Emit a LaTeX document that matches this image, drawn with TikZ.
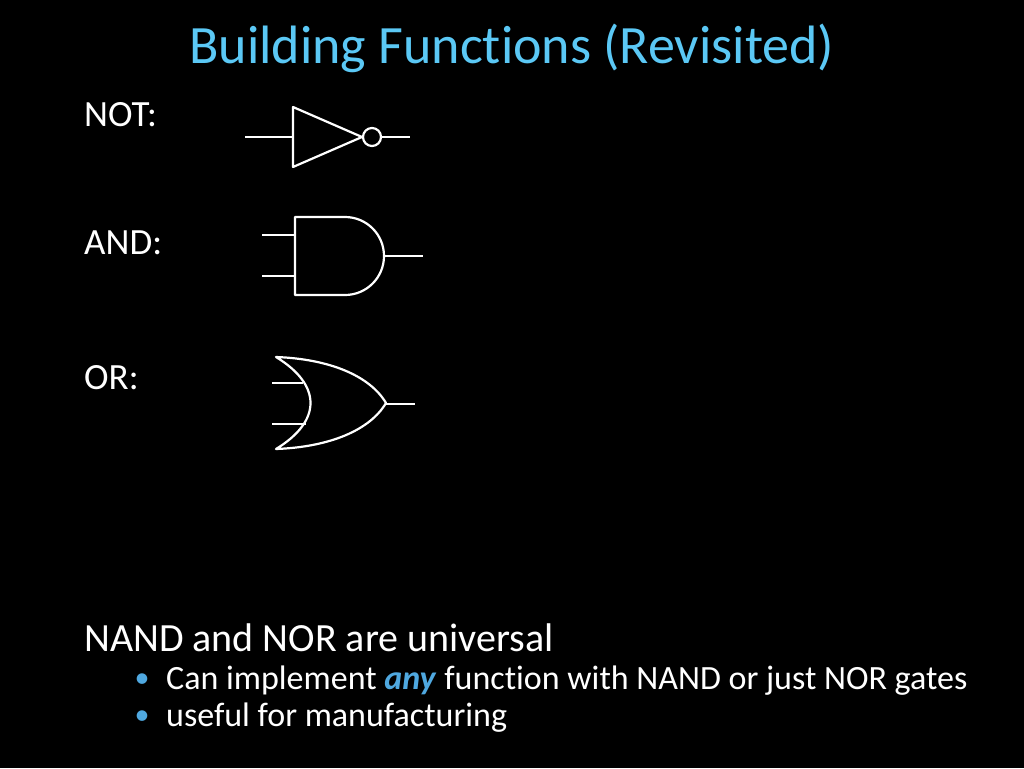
\documentclass[tikz,border=0pt]{standalone}
\usepackage{fontspec}
\setmainfont{Carlito}[Ligatures=NoCommon]
\definecolor{ttl}{HTML}{5BC8F5}
\definecolor{bul}{HTML}{4FA8E0}
\begin{document}
\begin{tikzpicture}[x=1pt,y=-1pt,gate/.style={draw=white,line width=2.2pt,line join=round},
 lbl/.style={text=white,anchor=west,inner sep=0pt,font=\fontsize{37}{42}\selectfont}]
\fill[black] (0,0) rectangle (1024,768);
\useasboundingbox (0,0) rectangle (1024,768);
\node[inner sep=0pt,text=ttl,font=\fontsize{54}{60}\selectfont] (title) at (512,48) {Building Functions (Revisited)};
\node[lbl] (lnot) at (84,115) {NOT:};
\node[lbl] (land) at (84,243) {AND:};
\node[lbl] (lor) at (84,378) {OR:};
% NOT
\draw[gate] (245,137) -- (293,137);
\draw[gate] (293,107) -- (293,167) -- (362,137) -- cycle;
\draw[gate] (372,137) circle (9);
\draw[gate] (381,137) -- (410,137);
% AND
\draw[gate] (262,235) -- (295,235);
\draw[gate] (262,276) -- (295,276);
\draw[gate] (295,217) -- (345,217) arc[start angle=-90,end angle=90,radius=39] -- (295,295) -- cycle;
\draw[gate] (384,256) -- (423,256);
% OR
\draw[gate] (272,383) -- (303,383);
\draw[gate] (272,424) -- (306,424);
\draw[gate] (276,357) .. controls (322,385) and (322,421) .. (276,449)
  .. controls (330,447) and (370,430) .. (386,403)
  .. controls (370,376) and (330,359) .. cycle;
\draw[gate] (386,404) -- (415,404);
% text
\node[lbl,font=\fontsize{40}{46}\selectfont] (t1) at (84,638) {NAND and NOR are universal};
\node[text=bul,inner sep=0pt,font=\fontsize{30}{34}\selectfont] (b1) at (142,681) {•};
\node[text=bul,inner sep=0pt,font=\fontsize{30}{34}\selectfont] (b2) at (142,718) {•};
\node[lbl,font=\fontsize{34}{40}\selectfont] (t2) at (166,681) {Can implement \textcolor{bul}{\textbf{\textit{any}}} function with NAND or just NOR gates};
\node[lbl,font=\fontsize{34}{40}\selectfont] (t3) at (166,718) {useful for manufacturing};
\end{tikzpicture}
\end{document}
